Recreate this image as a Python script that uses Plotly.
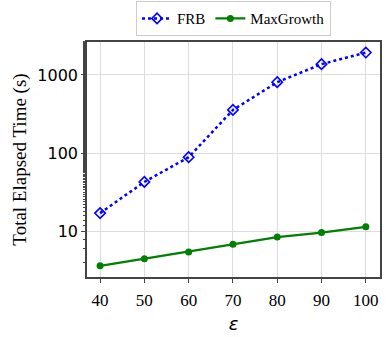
import plotly.graph_objects as go

eps = [40, 50, 60, 70, 80, 90, 100]
frb = [17.2, 43, 89, 357, 807, 1370, 1930]
maxgrowth = [3.65, 4.5, 5.5, 6.9, 8.5, 9.7, 11.5]
ytick_vals = [10, 100, 1000]
ytick_text = ["10", "100", "1000"]

fig = go.Figure()
fig.add_trace(go.Scatter(
    x=eps, y=frb, name="FRB", mode="lines+markers",
    line=dict(color="blue", width=2.5, dash="dot"),
    marker=dict(symbol="diamond-open", size=8, color="blue", line=dict(width=1.6, color="blue")),
))
fig.add_trace(go.Scatter(
    x=eps, y=maxgrowth, name="MaxGrowth", mode="lines+markers",
    line=dict(color="green", width=2.2),
    marker=dict(symbol="circle", size=7, color="green"),
))

fig.update_layout(
    width=391, height=337,
    margin=dict(l=87, r=11, t=42, b=60, autoexpand=False),
    paper_bgcolor="white", plot_bgcolor="white",
    font=dict(family="Liberation Serif", size=15, color="black"),
    legend=dict(orientation="h", x=0.5, xanchor="center", y=1.025, yanchor="bottom",
                bordercolor="#cccccc", borderwidth=1, font=dict(size=15),
                itemwidth=30, tracegroupgap=0),
    showlegend=True,
)
fig.update_xaxes(
    range=[37.05, 103.2], tickvals=eps, ticks="outside", ticklen=4, tickcolor="#444",
    ticklabelstandoff=3,
    showgrid=True, gridcolor="#dddddd", gridwidth=1,
    showline=True, linecolor="#444", linewidth=1.5, mirror=True,
    tickfont=dict(family="Liberation Serif", size=17),
    title=dict(text="<i>ε</i>", font=dict(family="DejaVu Sans", size=18), standoff=8),
    zeroline=False, automargin=False,
)
fig.update_yaxes(
    type="log", range=[0.42, 3.42], tickvals=ytick_vals, ticktext=ytick_text,
    ticks="outside", ticklen=4, tickcolor="#444",
    minor=dict(ticks="outside", ticklen=2, tickcolor="#444", showgrid=False),
    showgrid=True, gridcolor="#dddddd", gridwidth=1,
    showline=True, linecolor="#444", linewidth=1.5, mirror=True,
    tickfont=dict(family="DejaVu Sans", size=16),
    title=dict(text="Total Elapsed Time (s)", font=dict(family="Liberation Serif", size=19), standoff=6),
    zeroline=False, automargin=False,
)
fig.write_html("out.html", config={"displayModeBar": False},
               post_script="document.body.style.margin='0';document.body.style.padding='0';")
